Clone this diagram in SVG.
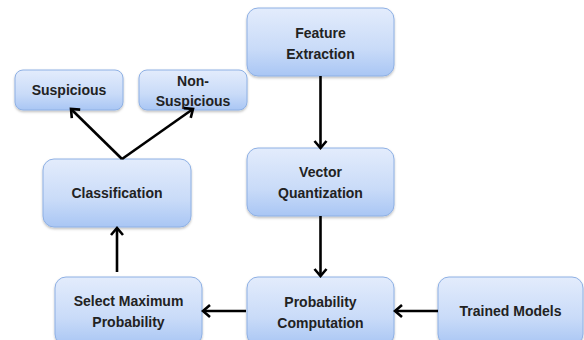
<svg xmlns="http://www.w3.org/2000/svg" width="584" height="340" viewBox="0 0 584 340">
<style>
.box{fill:url(#g);stroke:#8eb0e4;stroke-width:1;filter:url(#sh)}
.t{font-family:"Liberation Sans",Arial,sans-serif;font-weight:bold;font-size:14px;fill:#222;text-anchor:middle}
.c{fill:none;stroke:#000;stroke-width:2.6;marker-end:url(#a)}
</style>
<defs>
<linearGradient id="g" x1="0" y1="0" x2="0" y2="1">
<stop offset="0" stop-color="#e3ecfc"/>
<stop offset="0.6" stop-color="#c9dbf8"/>
<stop offset="1" stop-color="#a9c6f4"/>
</linearGradient>
<filter id="sh" x="-10%" y="-10%" width="120%" height="130%">
<feDropShadow dx="0" dy="1.5" stdDeviation="1.2" flood-color="#000" flood-opacity="0.25"/>
</filter>
<marker id="a" markerUnits="userSpaceOnUse" markerWidth="16" markerHeight="16" viewBox="0 0 16 16" refX="13" refY="8" orient="auto">
<path d="M6,2 L13,8 L6,14" fill="none" stroke="#000" stroke-width="2.6" stroke-linejoin="miter"/>
</marker>
</defs>
<rect width="584" height="340" fill="#fff"/>
<g id="feature-extraction"><rect class="box" x="247" y="8" width="147" height="68" rx="11"/><text class="t" x="320.5" y="38">Feature</text><text class="t" x="320.5" y="59">Extraction</text></g>
<g id="suspicious"><rect class="box" x="15" y="70" width="108" height="40" rx="8"/><text class="t" x="69" y="95">Suspicious</text></g>
<g id="non-suspicious"><rect class="box" x="139" y="70" width="108" height="40" rx="8"/><text class="t" x="193" y="86">Non-</text><text class="t" x="193" y="106">Suspicious</text></g>
<g id="classification"><rect class="box" x="43" y="159" width="148" height="68" rx="11"/><text class="t" x="117" y="198">Classification</text></g>
<g id="vector-quantization"><rect class="box" x="247" y="148" width="147" height="68" rx="11"/><text class="t" x="320.5" y="177">Vector</text><text class="t" x="320.5" y="198">Quantization</text></g>
<g id="select-maximum-probability"><rect class="box" x="55" y="277" width="147" height="68" rx="11"/><text class="t" x="128.5" y="306">Select Maximum</text><text class="t" x="128.5" y="327">Probability</text></g>
<g id="probability-computation"><rect class="box" x="247" y="277" width="147" height="68" rx="11"/><text class="t" x="320.5" y="307">Probability</text><text class="t" x="320.5" y="328">Computation</text></g>
<g id="trained-models"><rect class="box" x="438" y="277" width="145" height="68" rx="11"/><text class="t" x="510.5" y="316">Trained Models</text></g>
<g id="connectors">
<path class="c" d="M320.5,76 V148"/>
<path class="c" d="M320.5,216 V276"/>
<path class="c" d="M438,311 H395"/>
<path class="c" d="M246,311 H203"/>
<path class="c" d="M117,272 V228"/>
<path class="c" d="M122,159 L71,109"/>
<path class="c" d="M122,159 L193,109"/>
</g>
</svg>
